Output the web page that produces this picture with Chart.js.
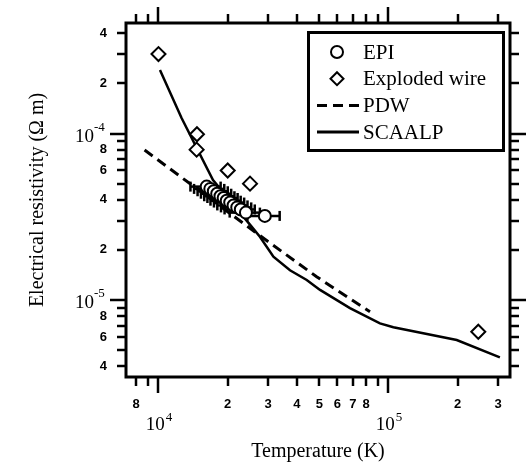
<!DOCTYPE html>
<html>
<head>
<meta charset="utf-8">
<script src="https://cdn.jsdelivr.net/npm/chart.js@4.4.0/dist/chart.umd.min.js"></script>
<style>
  html, body { margin: 0; padding: 0; background: #fff; }
</style>
</head>
<body>
<canvas id="c" width="532" height="468"></canvas>
<script>
    "use strict";

    // EPI measurements (temperature K, resistivity Ohm m, relative T error)
    var epiT = [16200, 16800, 17400, 18000, 18600, 19200, 19800, 20500, 21200, 22000, 22800, 24000, 29000];
    var epiRho = [4.8e-5, 4.65e-5, 4.5e-5, 4.35e-5, 4.2e-5, 4.1e-5, 3.95e-5, 3.85e-5, 3.7e-5, 3.6e-5, 3.5e-5, 3.35e-5, 3.2e-5];
    var epiTErr = [0.15, 0.15, 0.15, 0.15, 0.15, 0.15, 0.15, 0.15, 0.15, 0.15, 0.15, 0.15, 0.16];

    // exploded wire
    var wireT = [10000, 14700, 14650, 20000, 25000, 245700];
    var wireRho = [3.0e-4, 9.9e-5, 8.0e-5, 6.0e-5, 5.0e-5, 6.45e-6];

    // PDW model
    var pdwT = [8700, 15000, 26700, 48700, 83100];
    var pdwRho = [7.96e-5, 4.56e-5, 2.52e-5, 1.38e-5, 8.5e-6];

    // SCAALP model
    var scaalpT = [10150, 12600, 17260, 25400, 27600, 31600, 37300, 44100, 50400, 68000, 91800, 105000, 198000, 305000];
    var scaalpRho = [2.41e-4, 1.24e-4, 5.26e-5, 2.76e-5, 2.4e-5, 1.82e-5, 1.51e-5, 1.32e-5, 1.15e-5, 8.95e-6, 7.24e-6, 6.86e-6, 5.75e-6, 4.53e-6];

    // axes
    var xTickValues = [8e3, 9e3, 1e4, 2e4, 3e4, 4e4, 5e4, 6e4, 7e4, 8e4, 9e4, 1e5, 2e5, 3e5];
    var xTickLabels = ["8", "", "", "2", "3", "4", "5", "6", "7", "8", "", "", "2", "3"];
    var xMajorValues = [1e4, 1e5];
    var xMajorExp = ["4", "5"];
    var yTickValues = [4e-6, 5e-6, 6e-6, 7e-6, 8e-6, 9e-6, 1e-5, 2e-5, 3e-5, 4e-5, 5e-5, 6e-5, 7e-5, 8e-5, 9e-5, 1e-4, 2e-4, 3e-4, 4e-4];
    var yTickLabels = ["4", "", "6", "", "8", "", "", "2", "", "4", "", "6", "", "8", "", "", "2", "", "4"];
    var yMajorValues = [1e-5, 1e-4];
    var yMajorExp = ["-5", "-4"];

    var SERIF = "'Liberation Serif', 'Times New Roman', serif";

    function toPoints(xs, ys) {
        return xs.map(function (v, i) {
            return { x: v, y: ys[i] };
        });
    }
    function isDecade(v) {
        var l = Math.log10(v);
        return Math.abs(l - Math.round(l)) < 1e-6;
    }
    function line(ctx, x1, y1, x2, y2) {
        ctx.beginPath();
        ctx.moveTo(x1, y1);
        ctx.lineTo(x2, y2);
        ctx.stroke();
    }

    // horizontal error bars under the EPI circles
    var errorBars = {
        id: "errorBars",
        beforeDatasetDraw: function (chart, args) {
            if (args.index !== 0) {
                return;
            }
            var ctx = chart.ctx;
            var xs = chart.scales.x, ys = chart.scales.y;
            ctx.save();
            ctx.strokeStyle = "#000";
            ctx.lineWidth = 2.5;
            epiT.forEach(function (t, i) {
                var y = ys.getPixelForValue(epiRho[i]);
                var x1 = xs.getPixelForValue(t * (1 - epiTErr[i]));
                var x2 = xs.getPixelForValue(t * (1 + epiTErr[i]));
                line(ctx, x1, y, x2, y);
                line(ctx, x1, y - 5, x1, y + 5);
                line(ctx, x2, y - 5, x2, y + 5);
            });
            ctx.restore();
        },
    };

    // frame, outward tick marks, power-of-ten labels and the boxed legend
    var frame = {
        id: "frame",
        afterDraw: function (chart) {
            var ctx = chart.ctx, a = chart.chartArea;
            var xs = chart.scales.x, ys = chart.scales.y;
            ctx.save();
            ctx.strokeStyle = "#000";
            ctx.fillStyle = "#000";
            ctx.lineWidth = 3;
            ctx.strokeRect(a.left, a.top, a.right - a.left, a.bottom - a.top);

            ctx.lineWidth = 2.5;
            xTickValues.forEach(function (v) {
                var px = Math.round(xs.getPixelForValue(v));
                var len = isDecade(v) ? 16 : 9;
                line(ctx, px, a.bottom, px, a.bottom + len);
                line(ctx, px, a.top, px, a.top - len);
            });
            yTickValues.forEach(function (v) {
                var py = Math.round(ys.getPixelForValue(v));
                var len = isDecade(v) ? 16 : 9;
                line(ctx, a.left, py, a.left - len, py);
                line(ctx, a.right, py, a.right + len, py);
            });

            ctx.textBaseline = "alphabetic";
            ctx.textAlign = "left";
            xMajorValues.forEach(function (v, i) {
                var px = xs.getPixelForValue(v);
                ctx.font = "19px " + SERIF;
                var w1 = ctx.measureText("10").width;
                ctx.font = "13px " + SERIF;
                var w2 = ctx.measureText(xMajorExp[i]).width;
                var x0 = px - (w1 + w2) / 2;
                ctx.font = "19px " + SERIF;
                ctx.fillText("10", x0, 430);
                ctx.font = "13px " + SERIF;
                ctx.fillText(xMajorExp[i], x0 + w1 + 1, 421);
            });
            yMajorValues.forEach(function (v, i) {
                var py = ys.getPixelForValue(v);
                ctx.font = "19px " + SERIF;
                var w1 = ctx.measureText("10").width;
                ctx.fillText("10", 94 - w1, py + 8);
                ctx.font = "13px " + SERIF;
                ctx.fillText(yMajorExp[i], 94, py - 3);
            });

            // legend
            var ds = chart.data.datasets;
            ctx.lineWidth = 3;
            ctx.strokeRect(308.5, 32.5, 195, 118);
            ctx.font = "21px " + SERIF;
            ctx.textBaseline = "middle";
            for (var i = 0; i < ds.length; i++) {
                var ly = 52 + i * 26.7;
                ctx.fillText(ds[i].label, 363, ly + 1);
                ctx.lineWidth = 2;
                if (i === 0) {
                    ctx.beginPath();
                    ctx.arc(337, ly, 6, 0, Math.PI * 2);
                    ctx.stroke();
                } else if (i === 1) {
                    ctx.beginPath();
                    ctx.moveTo(337, ly - 6.5);
                    ctx.lineTo(343.5, ly);
                    ctx.lineTo(337, ly + 6.5);
                    ctx.lineTo(330.5, ly);
                    ctx.closePath();
                    ctx.stroke();
                } else {
                    ctx.lineWidth = 3;
                    ctx.setLineDash(ds[i].borderDash || []);
                    line(ctx, 317, ly, 359, ly);
                    ctx.setLineDash([]);
                }
            }
            ctx.restore();
        },
    };

    new Chart(document.getElementById("c"), {
        type: "scatter",
        data: {
            datasets: [
                {
                    label: "EPI",
                    data: toPoints(epiT, epiRho),
                    pointStyle: "circle",
                    pointRadius: 6,
                    borderWidth: 2,
                    borderColor: "#000",
                    backgroundColor: "#fff",
                },
                {
                    label: "Exploded wire",
                    data: toPoints(wireT, wireRho),
                    pointStyle: "rectRot",
                    pointRadius: 7,
                    borderWidth: 2,
                    borderColor: "#000",
                    backgroundColor: "#fff",
                },
                {
                    label: "PDW",
                    data: toPoints(pdwT, pdwRho),
                    showLine: true,
                    pointRadius: 0,
                    borderColor: "#000",
                    borderWidth: 3,
                    borderDash: [10, 6],
                },
                {
                    label: "SCAALP",
                    data: toPoints(scaalpT, scaalpRho),
                    showLine: true,
                    pointRadius: 0,
                    borderColor: "#000",
                    borderWidth: 2.5,
                },
            ],
        },
        options: {
            responsive: false,
            animation: false,
            devicePixelRatio: 1,
            layout: { padding: { top: 23, right: 22, left: 0, bottom: 0 } },
            plugins: {
                legend: { display: false },
                tooltip: { enabled: false },
            },
            scales: {
                x: {
                    type: "logarithmic",
                    min: 7224,
                    max: 337500,
                    grid: { display: false },
                    border: { display: false },
                    afterBuildTicks: function (scale) {
                        scale.ticks = xTickValues.map(function (v) {
                            return { value: v };
                        });
                    },
                    afterFit: function (scale) {
                        scale.height = 91;
                    },
                    ticks: {
                        autoSkip: false,
                        maxRotation: 0,
                        padding: 12,
                        color: "#000",
                        font: { family: "'Liberation Sans', Arial, sans-serif", size: 13, weight: "bold" },
                        callback: function (value, index) {
                            return xTickLabels[index];
                        },
                    },
                    title: {
                        display: true,
                        text: "Temperature (K)",
                        color: "#000",
                        font: { family: SERIF, size: 20 },
                        padding: { top: 0, bottom: 4 },
                    },
                },
                y: {
                    type: "logarithmic",
                    min: 3.45e-6,
                    max: 4.61e-4,
                    grid: { display: false },
                    border: { display: false },
                    afterBuildTicks: function (scale) {
                        scale.ticks = yTickValues.map(function (v) {
                            return { value: v };
                        });
                    },
                    afterFit: function (scale) {
                        scale.width = 126;
                    },
                    ticks: {
                        autoSkip: false,
                        padding: 11,
                        color: "#000",
                        font: { family: "'Liberation Sans', Arial, sans-serif", size: 13, weight: "bold" },
                        callback: function (value, index) {
                            return yTickLabels[index];
                        },
                    },
                    title: {
                        display: true,
                        text: "Electrical resistivity (\u03a9 m)",
                        color: "#000",
                        font: { family: SERIF, size: 20 },
                        padding: { top: 26, bottom: 0 },
                    },
                },
            },
        },
        plugins: [errorBars, frame],
    });
</script>
</body>
</html>
